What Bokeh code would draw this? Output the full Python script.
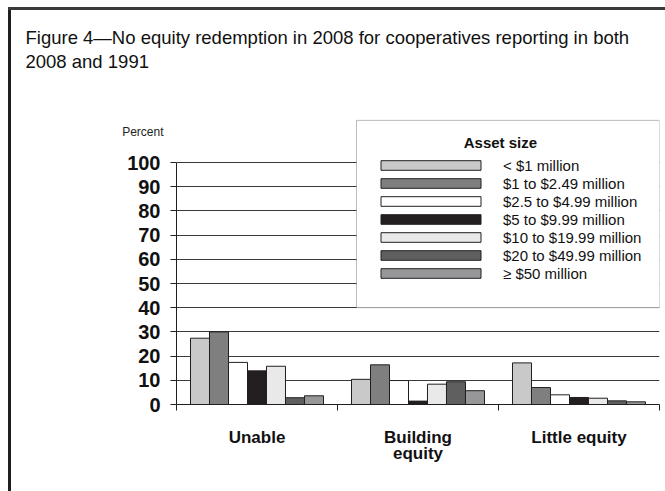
from bokeh.plotting import figure
from bokeh.models import (Range1d, FixedTicker, Legend, LegendItem, Label, BoxAnnotation,
                          LinearAxis, Title)
from bokeh.embed import file_html
from bokeh.resources import INLINE
import numpy as np

categories = ["Unable", "Building\nequity", "Little equity"]
asset_sizes = ["< $1 million", "$1 to $2.49 million", "$2.5 to $4.99 million",
               "$5 to $9.99 million", "$10 to $19.99 million", "$20 to $49.99 million",
               "\u2265 $50 million"]
# values (percent) per asset size, across the three categories
s_lt1 = [27.4, 10.4, 17.2]
s_1_249 = [30.0, 16.4, 7.0]
s_25_499 = [17.4, 9.9, 4.0]
s_5_999 = [13.9, 1.4, 2.9]
s_10_1999 = [15.8, 8.4, 2.6]
s_20_4999 = [2.8, 9.4, 1.5]
s_ge50 = [3.6, 5.7, 1.1]
series = [s_lt1, s_1_249, s_25_499, s_5_999, s_10_1999, s_20_4999, s_ge50]
colors = ["#c9c9ca", "#7f7f80", "#ffffff", "#231f20", "#e8e9e8", "#5f5f60", "#97979a"]
y_ticks = list(range(0, 101, 10))
title_text = "Figure 4\u2014No equity redemption in 2008 for cooperatives reporting in both\n2008 and 1991"

FONT = "Liberation Sans"
W, H = 665, 491
TOP, BOTTOM, LEFT, RIGHT = 80, 404, 176, 659
ytop = (BOTTOM - TOP) / 2.42

p = figure(width=W, height=H, output_backend="svg", toolbar_location=None,
           x_range=Range1d(0, 3), y_range=Range1d(0, ytop),
           min_border_left=LEFT, min_border_right=W - RIGHT, min_border_top=TOP,
           min_border_bottom=H - BOTTOM)
p.outline_line_color = None
p.background_fill_color = "white"
p.border_fill_alpha = 0
p.styles = {
    "background-color": "white",
    "background-image": "linear-gradient(#3a3a3a, #3a3a3a), linear-gradient(#231f20, #231f20)",
    "background-size": "100% 3px, 3px 100%",
    "background-position": "8px 7px, 8px 7px",
    "background-repeat": "no-repeat",
}

p.add_layout(Title(text=title_text, align="left", offset=-151, standoff=17,
                   text_font=FONT, text_font_size="18.5px", text_font_style="normal",
                   text_line_height=1.15, text_color="#111111"), "above")

bw = 0.118
centers = np.arange(len(categories)) + 0.5
renderers = []
for i, (vals, c) in enumerate(zip(series, colors)):
    r = p.vbar(x=centers + (i - 3) * bw, top=vals, width=bw, bottom=0,
               fill_color=c, line_color="#231f20", line_width=1)
    renderers.append(r)

# grid
p.xgrid.visible = False
p.ygrid.ticker = FixedTicker(ticks=y_ticks[1:])
p.ygrid.grid_line_color = "#3a3a3a"
p.ygrid.grid_line_width = 1

# x axis
xa = p.xaxis[0]
xa.ticker = FixedTicker(ticks=list(centers), minor_ticks=[0, 1, 2, 3])
xa.major_label_overrides = {float(c): lab for c, lab in zip(centers, categories)}
xa.major_tick_line_color = None
xa.major_tick_out = 0
xa.major_tick_in = 0
xa.minor_tick_line_color = "#231f20"
xa.minor_tick_out = 6
xa.minor_tick_in = 0
xa.axis_line_color = "#231f20"
xa.major_label_standoff = 17
xa.major_label_text_font = FONT
xa.major_label_text_font_style = "bold"
xa.major_label_text_font_size = "17px"
xa.major_label_text_line_height = 0.85
xa.major_label_text_color = "#111111"

# y axis
ya = p.yaxis[0]
ya.ticker = FixedTicker(ticks=y_ticks)
ya.bounds = (0, 100)
ya.minor_tick_line_color = None
ya.major_tick_out = 6
ya.major_tick_in = 0
ya.major_tick_line_color = "#231f20"
ya.axis_line_color = "#231f20"
ya.major_label_standoff = 10
ya.major_label_text_font = FONT
ya.major_label_text_font_style = "bold"
ya.major_label_text_font_size = "20px"
ya.major_label_text_color = "#111111"

# "Percent" caption as an extra left axis with a single labelled tick
pct_axis = LinearAxis(ticker=FixedTicker(ticks=[112.8]),
                      major_label_overrides={112.8: "Percent"},
                      axis_line_color=None, major_tick_line_color=None,
                      minor_tick_line_color=None, major_label_standoff=-45,
                      major_label_text_font=FONT, major_label_text_font_size="12px",
                      major_label_text_color="#222222")
p.add_layout(pct_axis, "left")

# legend frame
p.add_layout(BoxAnnotation(left=1.118, right=3.0, bottom=40, top=117.4,
                           fill_color="white", fill_alpha=1.0,
                           line_color="#231f20", line_width=1, level="annotation"))

legend = Legend(items=[LegendItem(label=a, renderers=[r]) for a, r in zip(asset_sizes, renderers)],
                location=(192, 122), glyph_width=125, glyph_height=12, label_height=18,
                spacing=0, padding=0, margin=0, border_line_color=None,
                background_fill_alpha=0, label_standoff=10,
                label_text_font=FONT, label_text_font_size="15px", label_text_color="#111111")
p.add_layout(legend)

p.add_layout(Label(x=2.012, y=108.3, text="Asset size", text_align="center",
                   text_baseline="middle", text_font=FONT, text_font_size="15px",
                   text_font_style="bold", text_color="#111111", level="overlay"))

open("out.html", "w").write(file_html(p, INLINE))
